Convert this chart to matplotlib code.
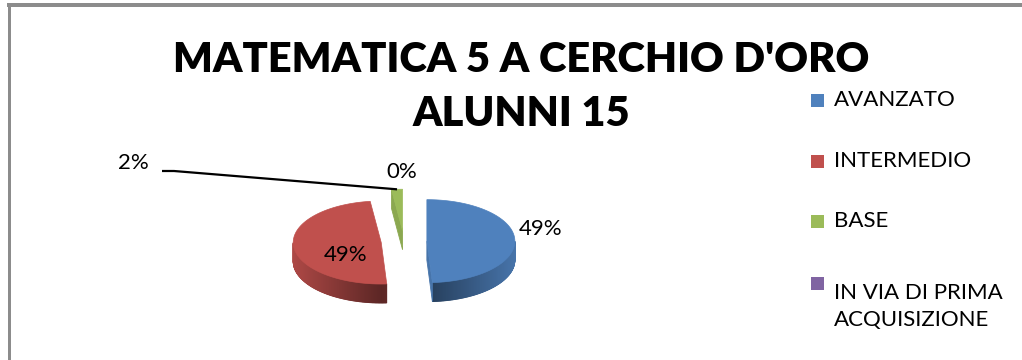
import numpy as np
import matplotlib.pyplot as plt
import matplotlib.colors as mcolors
from matplotlib.patches import Polygon, Rectangle

plt.rcParams['font.family'] = ['Lato', 'DejaVu Sans']

# data
categories = ['AVANZATO', 'INTERMEDIO', 'BASE', 'IN VIA DI PRIMA\nACQUISIZIONE']
values = [49, 49, 2, 0]
colors = ['#4F81BD', '#C0504D', '#9BBB59', '#8064A2']
title_lines = ["MATEMATICA 5 A CERCHIO D'ORO", "ALUNNI 15"]

fig = plt.figure(figsize=(10.22, 3.6), dpi=100)
ax = fig.add_axes([0, 0, 1, 1])
ax.set_xlim(0, 1022)
ax.set_ylim(360, 0)
ax.axis('off')

# grey frame along the top and left edges
ax.add_patch(Rectangle((7, 3.3), 1020, 3.4, color='#8c8c8c', lw=0))
ax.add_patch(Rectangle((8.3, 5), 2.4, 360, color='#8c8c8c', lw=0))

# titles
ax.text(521, 60, title_lines[0], ha='center', va='center', fontsize=30,
        fontweight='heavy', color='black')
ax.text(521, 114, title_lines[1], ha='center', va='center', fontsize=30,
        fontweight='heavy', color='black')

# 3d pie geometry (pixels)
cx, cy, rx, ry, depth, explode = 404, 241.5, 88, 41.5, 19, 0.26


def shade(c, f):
    r, g, b = mcolors.to_rgb(c)
    return (r * f, g * f, b * f)


total = float(sum(values))
slices = []
start = 90.0
for val, col in zip(values, colors):
    sweep = 360.0 * val / total
    end = start - sweep
    mid = np.radians(start - sweep / 2)
    ox = cx + explode * rx * np.cos(mid)
    oy = cy - explode * ry * np.sin(mid)
    slices.append((start, end, ox, oy, col, val))
    start = end

# back slices first
for s, e, ox, oy, col, val in sorted(slices, key=lambda t: t[3]):
    if val == 0:
        continue
    npts = max(int(abs(s - e) * 2), 4)
    th = np.radians(np.linspace(s, e, npts))
    tx = np.concatenate([[ox], ox + rx * np.cos(th)])
    ty = np.concatenate([[oy], oy - ry * np.sin(th)])
    mx, my = tx.mean(), ty.mean()
    n = len(tx)
    for i in range(n):
        j = (i + 1) % n
        x0, y0, x1, y1 = tx[i], ty[i], tx[j], ty[j]
        nx, ny = (y1 - y0), -(x1 - x0)
        if nx * ((x0 + x1) / 2 - mx) + ny * ((y0 + y1) / 2 - my) < 0:
            nx, ny = -nx, -ny
        if ny <= 1e-9:
            continue
        ccx, ccy = rx * nx, ry * ny
        f = 0.48 + 0.42 * abs(ccx) / np.hypot(ccx, ccy)
        c = shade(col, f)
        quad = [(x0, y0), (x1, y1), (x1, y1 + depth), (x0, y0 + depth)]
        ax.add_patch(Polygon(quad, closed=True, fc=c, ec=c, lw=0.6))
    ax.add_patch(Polygon(np.column_stack([tx, ty]), closed=True, fc=col,
                         ec=col, lw=0.5))

# value labels
ax.text(541, 229, '49%', ha='center', va='center', fontsize=16)
ax.text(346, 255, '49%', ha='center', va='center', fontsize=16)
ax.text(402, 172, '0%', ha='center', va='center', fontsize=16)
ax.text(133, 163, '2%', ha='center', va='center', fontsize=16)
gs, ge, gox, goy = slices[2][0], slices[2][1], slices[2][2], slices[2][3]
gm = np.radians((gs + ge) / 2)
ax.plot([162, 174, gox + rx * np.cos(gm)], [171, 171, goy - ry * np.sin(gm)],
        color='black', lw=1.6, solid_capstyle='butt')

# legend
leg_y = [101, 162, 222, 284]
for y, lab, col in zip(leg_y, categories, colors):
    ax.add_patch(Rectangle((811, y - 7), 13, 13, fc=col, ec='none'))
    ax.text(834, y - 1, lab, ha='left', va='top' if '\n' in lab else 'center',
            fontsize=16, linespacing=1.45)

fig.savefig('out.png', dpi=100)
